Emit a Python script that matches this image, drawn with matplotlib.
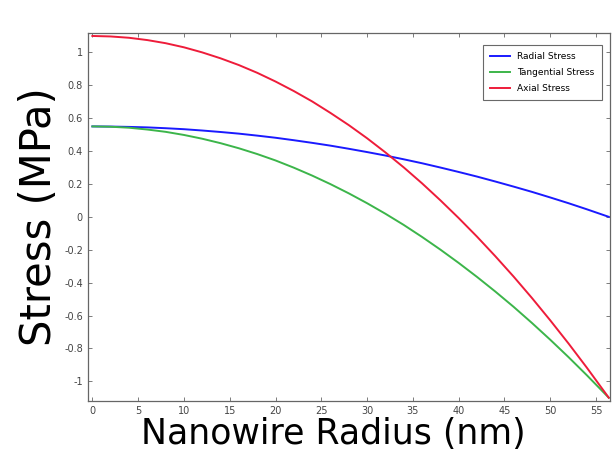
import numpy as np
import matplotlib
matplotlib.use("Agg")
import matplotlib.pyplot as plt

# values
radius = [0, 2, 4, 6, 8, 10, 12, 14, 16, 18, 20, 22, 24, 26, 28, 30, 32,
          34, 36, 38, 40, 42, 44, 46, 48, 50, 52, 54, 56.4]
radial = [0.550, 0.549, 0.547, 0.544, 0.539, 0.533, 0.525, 0.516, 0.506,
          0.494, 0.481, 0.466, 0.450, 0.433, 0.414, 0.394, 0.373, 0.350,
          0.326, 0.300, 0.273, 0.245, 0.215, 0.184, 0.152, 0.118, 0.083,
          0.046, 0.0]
tangential = [0.550, 0.548, 0.542, 0.531, 0.517, 0.498, 0.475, 0.448, 0.417,
              0.382, 0.343, 0.299, 0.251, 0.199, 0.143, 0.083, 0.019, -0.049,
              -0.122, -0.199, -0.280, -0.365, -0.454, -0.547, -0.645, -0.747,
              -0.853, -0.963, -1.100]
axial = [1.100, 1.097, 1.089, 1.075, 1.056, 1.031, 1.000, 0.964, 0.923,
         0.876, 0.823, 0.765, 0.702, 0.632, 0.558, 0.478, 0.392, 0.301,
         0.204, 0.101, -0.007, -0.120, -0.239, -0.363, -0.493, -0.629,
         -0.770, -0.917, -1.100]

xticks = [0, 5, 10, 15, 20, 25, 30, 35, 40, 45, 50, 55]
yticks = [1, 0.8, 0.6, 0.4, 0.2, 0, -0.2, -0.4, -0.6, -0.8, -1]
ytick_labels = ['1', '0.8', '0.6', '0.4', '0.2', '0', '-0.2', '-0.4', '-0.6', '-0.8', '-1']

plt.rcParams['axes.unicode_minus'] = False
fig = plt.figure(figsize=(6.14, 4.57), dpi=100)
ax = fig.add_axes([0.143, 0.1225, 0.85, 0.806])

ax.plot(radius, radial, color='#1a1aff', lw=1.4, label='Radial Stress')
ax.plot(radius, tangential, color='#3cb54a', lw=1.4, label='Tangential Stress')
ax.plot(radius, axial, color='#ee1c3a', lw=1.4, label='Axial Stress')

ax.set_xlim(-0.5, 56.5)
ax.set_ylim(-1.12, 1.12)
ax.set_xticks(xticks)
ax.set_yticks(yticks)
ax.set_yticklabels(ytick_labels)
ax.tick_params(direction='in', top=True, right=True, labelsize=7,
               labelcolor='#444444', color='#666666', length=3, width=0.6)
for s in ax.spines.values():
    s.set_color('#666666')
    s.set_linewidth(0.9)

ax.set_xlabel('Nanowire Radius (nm)', fontsize=25, labelpad=1)
ax.xaxis.label.set_x(0.47)
ax.set_ylabel('Stress (MPa)', fontsize=30, labelpad=3)

leg = ax.legend(loc='upper right', fontsize=6.5, fancybox=False,
                edgecolor='#444444', handlelength=2.2, borderpad=0.8,
                labelspacing=0.8, bbox_to_anchor=(0.993, 0.98))
leg.get_frame().set_linewidth(0.8)

fig.savefig('out.png', dpi=100)
